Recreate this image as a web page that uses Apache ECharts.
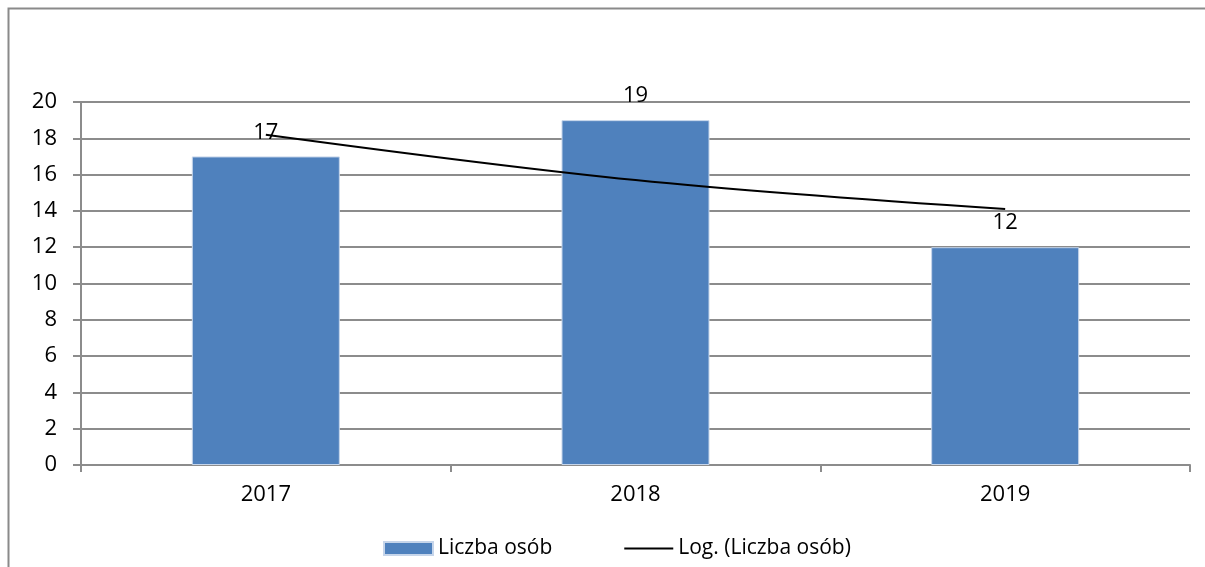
<!DOCTYPE html>
<html>
<head>
<meta charset="utf-8">
<script src="https://cdn.jsdelivr.net/npm/echarts@6/dist/echarts.min.js"></script>
<style>
  html, body { margin: 0; padding: 0; background: #fff; }
  #chart { width: 1205px; height: 567px; }
</style>
</head>
<body>
<div id="chart"></div>
<script>
// dane
var years = ["2017", "2018", "2019"];
var liczbaOsob = [17, 19, 12];
// linia trendu (log.)
var trendLog = [18.2, 15.7, 14.1];
var yTicks = [0, 20, 2];

var myChart = echarts.init(document.getElementById("chart"), null, { renderer: "canvas" });
var font = "'Open Sans', sans-serif";
var fs = 22;

var option = {
  animation: false,
  backgroundColor: "#fff",
  graphic: [
    {
      type: "rect",
      shape: { x: 8.5, y: 8.5, width: 1400, height: 800 },
      style: { fill: "none", stroke: "#8a8a8a", lineWidth: 2 },
      silent: true,
    },
  ],
  grid: { left: 81, right: 15, top: 102, bottom: 102 },
  legend: {
    bottom: 3,
    left: 378,
    itemGap: 72,
    textStyle: { color: "#000", fontSize: 21, fontFamily: font },
    data: [
      { name: "Liczba osób", icon: "rect", itemStyle: { color: "#4F81BD" } },
      {
        name: "Log. (Liczba osób)",
        icon: "path://M0,0 L49,0 L49,2 L0,2 Z",
        itemStyle: { color: "#000" },
      },
    ],
    itemWidth: 49,
    itemHeight: 13,
  },
  xAxis: {
    type: "category",
    data: years,
    boundaryGap: true,
    axisLine: { lineStyle: { color: "#8c8c8c", width: 2 } },
    axisTick: { show: true, length: 7, lineStyle: { color: "#8c8c8c", width: 2 } },
    axisLabel: { color: "#000", fontSize: fs, fontFamily: font, margin: 19 },
  },
  yAxis: {
    type: "value",
    min: yTicks[0],
    max: yTicks[1],
    interval: yTicks[2],
    axisLine: { show: true, lineStyle: { color: "#8c8c8c", width: 2 } },
    axisTick: { show: true, length: 8, lineStyle: { color: "#8c8c8c", width: 2 } },
    splitLine: { lineStyle: { color: "#8c8c8c", width: 2 } },
    axisLabel: { color: "#000", fontSize: fs, fontFamily: font, margin: 24 },
  },
  series: [
    {
      name: "Liczba osób",
      type: "bar",
      data: liczbaOsob,
      barWidth: 148,
      itemStyle: { color: "#4F81BD", borderColor: "#c6d5ea", borderWidth: 1 },
      label: {
        show: true,
        position: "top",
        distance: 13,
        color: "#000",
        fontSize: fs,
        fontFamily: font,
      },
      z: 2,
    },
    {
      name: "Log. (Liczba osób)",
      type: "line",
      data: trendLog,
      smooth: 0.35,
      symbol: "none",
      lineStyle: { color: "#000", width: 2 },
      itemStyle: { color: "#000" },
      z: 3,
    },
  ],
};

if (option && typeof option === "object") {
  myChart.setOption(option);
}
window.addEventListener("resize", myChart.resize);
</script>
</body>
</html>
